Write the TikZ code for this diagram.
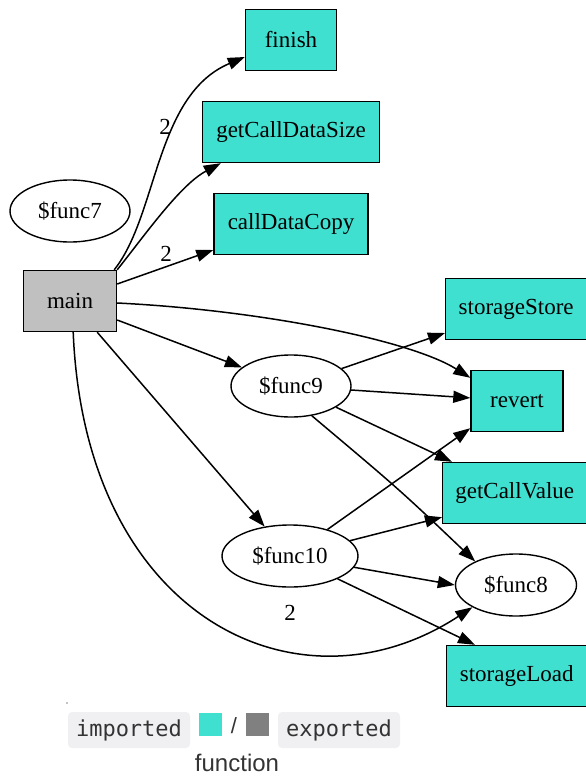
\documentclass[tikz,border=0pt]{standalone}
\usepackage{fontspec}
\setmainfont{Liberation Serif}
\newfontfamily\graphfont{Liberation Serif}
\newfontfamily\legmono{DejaVu Sans Mono}
\newfontfamily\legsans{Liberation Sans}
\usetikzlibrary{arrows.meta,shapes.geometric}
\definecolor{turq}{HTML}{40E0D0}
\definecolor{mgray}{HTML}{C0C0C0}
\definecolor{dgray}{HTML}{808080}
\definecolor{chip}{HTML}{F0F0F2}
\definecolor{chiptext}{HTML}{333333}
\begin{document}
\begin{tikzpicture}[x=1pt,y=-1pt,
  font=\graphfont\fontsize{23}{27}\selectfont,
  imp/.style={draw, line width=1.4pt, fill=turq, rectangle, inner sep=0pt, minimum height=61pt},
  expo/.style={draw, line width=1.4pt, fill=mgray, rectangle, inner sep=0pt, minimum height=61pt},
  fn/.style={draw, line width=1.4pt, ellipse, inner sep=0pt, minimum height=62pt},
  edge/.style={draw, line width=1.5pt, -{Triangle[length=17pt,width=12pt]}},
  lab/.style={inner sep=0pt},
  chipbox/.style={fill=chip, rounded corners=4pt, inner sep=0pt, minimum width=122pt, minimum height=36pt, text=chiptext, font=\legmono\fontsize{22}{26}\selectfont},
  legsq/.style={inner sep=0pt, minimum size=23pt}]
\useasboundingbox (0,0) rectangle (586,777);

% nodes
\node[imp, minimum width=91pt] (finish) at (291,40) {finish};
\node[imp, minimum width=177pt] (gcds) at (291,132) {getCallDataSize};
\node[imp, minimum width=154pt] (cdc) at (291,224) {callDataCopy};
\node[fn, minimum width=120pt] (f7) at (70,211) {\$func7};
\node[expo, minimum width=93pt] (main) at (70,301) {main};
\node[imp, minimum width=141pt, anchor=west] (sstore) at (445,309) {storageStore};
\node[imp, minimum width=92pt] (revert) at (517,401) {revert};
\node[fn, minimum width=120pt] (f9) at (291,386) {\$func9};
\node[imp, minimum width=144pt, anchor=west] (gcv) at (442,493) {getCallValue};
\node[fn, minimum width=136pt] (f10) at (290,556) {\$func10};
\node[fn, minimum width=121pt] (f8) at (516,585) {\$func8};
\node[imp, minimum width=140pt, anchor=west] (sload) at (446,676) {storageLoad};

% labels
\node[lab] (l1) at (165,127) {2};
\node[lab] (l2) at (166,254) {2};
\node[lab] (l3) at (290,613) {2};

% edges from main
\draw[edge] ([xshift=-3pt]main.north east) .. controls (158,215) and (155,95) .. ([yshift=-17pt]finish.west);
\draw[edge] (main.north east) .. controls (145,235) and (180,185) .. ([xshift=19pt]gcds.south west);
\draw[edge] ([yshift=17pt]main.east) -- ([yshift=-26pt]cdc.west);
\draw[edge] ([yshift=-2pt]main.east) .. controls (260,310) and (410,340) .. ([yshift=-8pt]revert.north west);
\draw[edge] ([yshift=-19pt]main.east) -- (f9);
\draw[edge] ([xshift=-20pt]main.south east) -- (f10);
\draw[edge] ([xshift=-44pt]main.south east) .. controls (85,620) and (300,720) .. (f8.207);

% edges from func9
\draw[edge] (f9) -- ([yshift=-24pt]sstore.west);
\draw[edge] (f9) -- (revert);
\draw[edge] (f9) -- ([xshift=10pt]gcv.north west);
\draw[edge] (f9.-55) .. controls (400,490) .. (f8.150);

% edges from func10
\draw[edge] (f10) -- ([yshift=4pt]revert.south west);
\draw[edge] (f10) -- ([yshift=7pt]gcv.south west);
\draw[edge] (f10) -- (f8.west);
\draw[edge] (f10) -- ([xshift=29pt]sload.north west);

% legend
\fill (67,703) circle (0.7pt);
\node[chipbox] (imported) at (129,730) {imported};
\node[legsq, fill=turq] (sqimp) at (210.5,724.5) {};
\node[inner sep=0pt, text=chiptext, font=\legsans\fontsize{22}{26}\selectfont] (slash) at (234,726) {/};
\node[legsq, fill=dgray] (sqexp) at (257.5,724.5) {};
\node[chipbox] (exported) at (339,730) {exported};
\node[inner sep=0pt, text=chiptext, font=\legsans\fontsize{24}{28}\selectfont] (fnlab) at (237,763) {function};
\end{tikzpicture}
\end{document}
